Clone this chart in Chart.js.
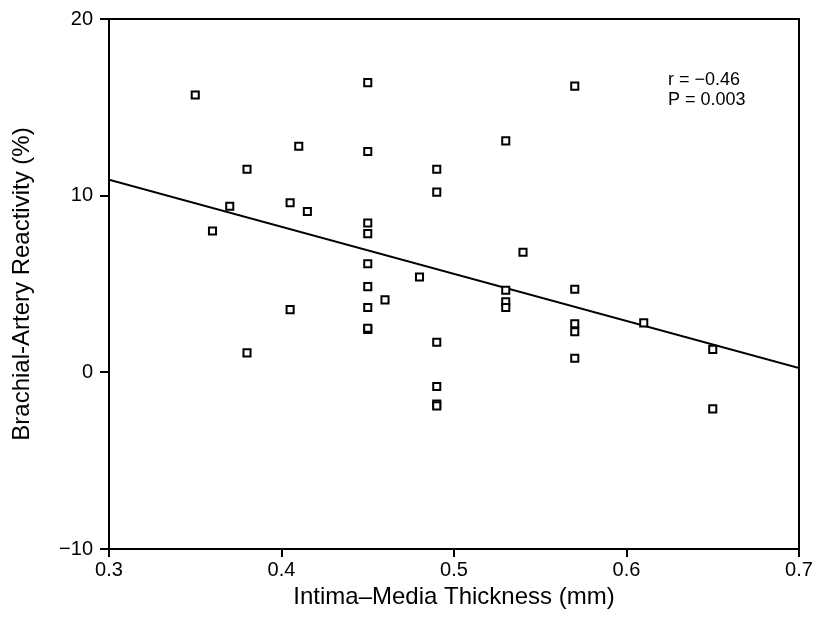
<!DOCTYPE html>
<html>
<head>
<meta charset="utf-8">
<script src="https://cdn.jsdelivr.net/npm/chart.js@4.4.1/dist/chart.umd.min.js"></script>
<style>
  html, body { margin: 0; padding: 0; background: #fff; }
  #wrap { width: 814px; height: 624px; }
</style>
</head>
<body>
<div id="wrap"><canvas id="chart" width="814" height="624"></canvas></div>
<script>
/* ====== DATA ====== */
const imtValues = [
  0.35, 0.36, 0.37, 0.38, 0.38, 0.405, 0.405, 0.41, 0.415,
  0.45, 0.45, 0.45, 0.45, 0.45, 0.45, 0.45, 0.45, 0.45, 0.46, 0.48,
  0.49, 0.49, 0.49, 0.49, 0.49, 0.49,
  0.53, 0.53, 0.53, 0.53, 0.54,
  0.57, 0.57, 0.57, 0.57, 0.57, 0.61, 0.65, 0.65
];
const reactivityValues = [
  15.7, 8.0, 9.4, 11.5, 1.1, 9.6, 3.55, 12.8, 9.1,
  16.4, 12.5, 8.45, 7.85, 6.15, 4.85, 3.67, 2.42, 2.5, 4.1, 5.4,
  11.5, 10.2, 1.7, -0.8, -1.8, -1.9,
  13.1, 4.65, 4.0, 3.67, 6.8,
  16.2, 4.7, 2.75, 2.3, 0.8, 2.8, 1.3, -2.07
];
const fitX = [0.3, 0.7];
const fitY = [10.9, 0.25];
const xTicks = [0.3, 0.4, 0.5, 0.6, 0.7];
const yTicks = [-10, 0, 10, 20];
const statsLines = ["r = \u22120.46", "P = 0.003"];
const statsPos = { x: 0.624, y: [16.56, 15.43] };

const FONT = "'Liberation Sans', Arial, Helvetica, sans-serif";

/* ====== PLUGINS ====== */
// closes the box (top + right) and writes r / P
const framePlugin = {
  id: "frame",
  afterDraw(chart) {
    const { ctx, chartArea: a, scales } = chart;
    ctx.save();
    ctx.strokeStyle = "#000";
    ctx.lineWidth = 2;
    ctx.beginPath();
    ctx.moveTo(a.left, a.top);
    ctx.lineTo(a.right, a.top);
    ctx.lineTo(a.right, a.bottom);
    ctx.stroke();

    ctx.fillStyle = "#000";
    ctx.font = "18px " + FONT;
    ctx.textAlign = "left";
    ctx.textBaseline = "middle";
    statsLines.forEach((t, i) => {
      ctx.fillText(t, scales.x.getPixelForValue(statsPos.x), scales.y.getPixelForValue(statsPos.y[i]));
    });
    ctx.restore();
  }
};

/* ====== CHART ====== */
const points = imtValues.map((v, i) => ({ x: v, y: reactivityValues[i] }));
const fitLine = fitX.map((v, i) => ({ x: v, y: fitY[i] }));

new Chart(document.getElementById("chart"), {
  type: "scatter",
  data: {
    datasets: [
      {
        data: points,
        pointStyle: "rect",
        pointRadius: 5,
        pointBorderWidth: 2,
        pointBorderColor: "#000",
        pointBackgroundColor: "#fff",
        showLine: false
      },
      {
        data: fitLine,
        showLine: true,
        borderColor: "#000",
        borderWidth: 2,
        pointRadius: 0,
        fill: false
      }
    ]
  },
  options: {
    responsive: false,
    animation: false,
    layout: { padding: { top: 17, right: 15, left: 0, bottom: 0 } },
    plugins: { legend: { display: false }, tooltip: { enabled: false } },
    scales: {
      x: {
        type: "linear",
        min: 0.3, max: 0.7,
        afterBuildTicks: s => { s.ticks = xTicks.map(v => ({ value: v })); },
        afterFit: s => { s.height = 75; },
        grid: { drawOnChartArea: false, drawTicks: true, tickLength: 8, color: "#000", lineWidth: 2 },
        border: { display: true, color: "#000", width: 2 },
        ticks: {
          color: "#000", padding: 1,
          font: { family: FONT, size: 20 },
          maxRotation: 0,
          callback: v => v.toFixed(1)
        },
        title: {
          display: true, text: "Intima\u2013Media Thickness (mm)",
          color: "#000", font: { family: FONT, size: 24 },
          padding: { top: 0, bottom: 12 }
        }
      },
      y: {
        type: "linear",
        min: -10, max: 20,
        afterBuildTicks: s => { s.ticks = yTicks.map(v => ({ value: v })); },
        afterFit: s => { s.width = 109; },
        grid: { drawOnChartArea: false, drawTicks: true, tickLength: 9, color: "#000", lineWidth: 2 },
        border: { display: true, color: "#000", width: 2 },
        ticks: {
          color: "#000", padding: 7,
          font: { family: FONT, size: 20 },
          callback: v => (v < 0 ? "\u2212" + Math.abs(v) : String(v))
        },
        title: {
          display: true, text: "Brachial-Artery Reactivity (%)",
          color: "#000", font: { family: FONT, size: 24 },
          padding: { top: 8, bottom: 0 }
        }
      }
    }
  },
  plugins: [framePlugin]
});
</script>
</body>
</html>
